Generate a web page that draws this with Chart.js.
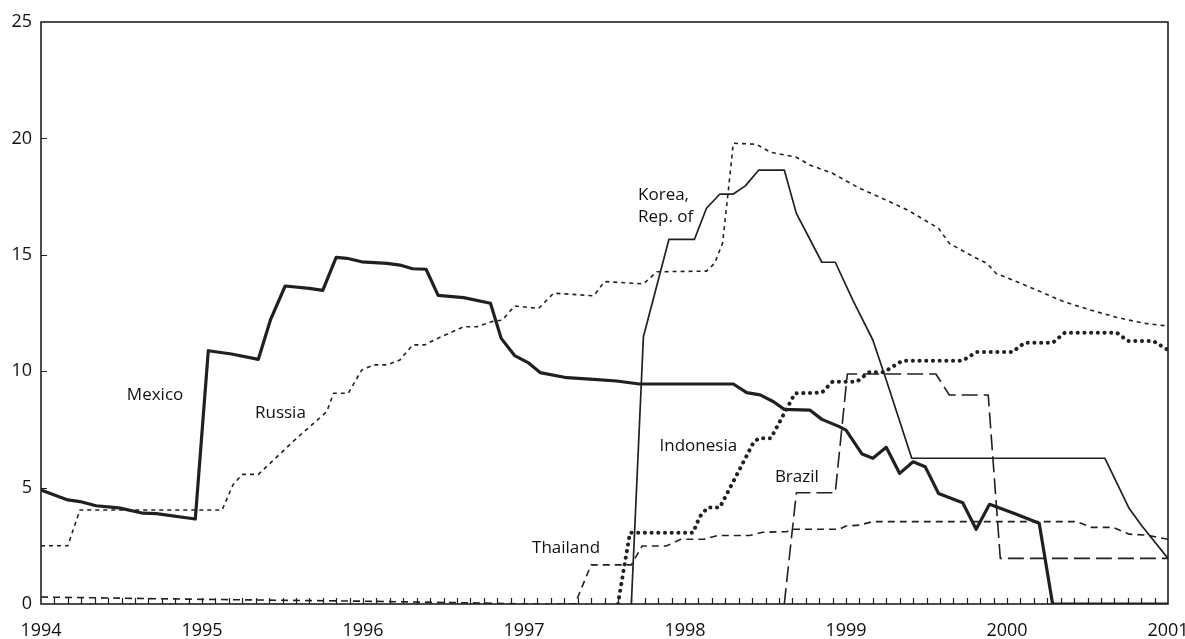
<!DOCTYPE html>
<html>
<head>
<meta charset="utf-8">
<script src="https://cdn.jsdelivr.net/npm/chart.js@4"></script>
<style>
  body { margin: 0; background: #fff; }
  #wrap { width: 1185px; height: 639px; }
</style>
</head>
<body>
<div id="wrap"><canvas id="chart"></canvas></div>
<script>
// x = months since January 1994, y = rate
const years = [1994, 1995, 1996, 1997, 1998, 1999, 2000, 2001];
const yTicks = [0, 5, 10, 15, 20, 25];

const mexico = [[0,4.9],[2,4.47],[2.9,4.4],[4.1,4.22],[5.6,4.14],[5.9,4.12],[7.6,3.9],[8.6,3.88],[11.5,3.65],
  [12.47,10.88],[14.2,10.74],[16.2,10.51],[17.1,12.2],[18.2,13.66],[20.0,13.56],[21.0,13.47],[22.0,14.89],
  [22.8,14.85],[23.9,14.7],[25.8,14.63],[26.75,14.56],[27.7,14.4],[28.7,14.38],[29.6,13.26],[31.5,13.16],
  [33.5,12.92],[34.3,11.41],[35.3,10.67],[36.3,10.37],[37.2,9.94],[39.2,9.72],[41.2,9.65],[42.9,9.58],
  [44.6,9.45],[51.6,9.45],[52.6,9.08],[53.6,8.98],[54.6,8.69],[55.4,8.36],[57.3,8.33],[58.2,7.93],
  [59.5,7.62],[60.0,7.47],[61.2,6.44],[62.0,6.26],[63.0,6.73],[64.0,5.61],[65.0,6.11],[65.9,5.9],
  [66.9,4.75],[68.7,4.35],[69.7,3.21],[70.7,4.28],[72.5,3.9],[74.4,3.47],[75.4,0],[84,0]];

const russia = [[0,2.5],[2,2.5],[2.9,4.04],[13.5,4.04],[14.3,5.11],[15,5.57],[16.2,5.57],[18.9,7.04],
  [21.3,8.26],[21.8,9.05],[22.9,9.05],[23.9,10.05],[24.8,10.27],[25.8,10.27],[26.75,10.48],[27.7,11.13],
  [28.6,11.13],[29.4,11.37],[31.5,11.91],[32.5,11.91],[33.6,12.13],[34.4,12.2],[35.3,12.8],[37.1,12.7],
  [38.2,13.35],[41.2,13.24],[42.0,13.85],[44.9,13.75],[45.9,14.27],[49.6,14.3],[50.2,14.63],[50.8,15.5],
  [51.2,17.6],[51.6,19.79],[53.3,19.75],[54.4,19.4],[56.3,19.19],[57.3,18.86],[59.0,18.5],[61.0,17.86],
  [62.8,17.4],[64.6,16.92],[66.9,16.14],[67.7,15.49],[69.5,14.92],[70.5,14.63],[71.2,14.2],[72.7,13.85],
  [74.2,13.49],[76.2,12.99],[78.2,12.63],[80.2,12.31],[82.2,12.06],[84,11.94]];

const korea = [[44,0],[44.9,11.48],[46.8,15.66],[48.7,15.66],[49.6,17.0],[50.6,17.61],[51.6,17.61],
  [52.5,17.96],[53.5,18.64],[55.4,18.64],[56.3,16.78],[58.2,14.68],[59.2,14.68],[60.5,13.06],[62.0,11.34],
  [63.0,9.62],[64.9,6.26],[79.3,6.26],[81.1,4.11],[82.0,3.39],[84,1.96]];

const indonesia = [[43,0],[43.9,3.06],[48.6,3.06],[49.1,3.75],[49.7,4.15],[50.6,4.15],[53.1,6.93],
  [53.5,7.12],[54.4,7.12],[56.2,9.05],[58.2,9.08],[59.0,9.55],[60.8,9.55],[61.7,9.95],[62.8,9.95],
  [64.2,10.45],[68.7,10.45],[69.7,10.82],[72.4,10.82],[73.3,11.22],[75.4,11.22],[76.3,11.65],[80.2,11.65],
  [81.0,11.3],[82.9,11.3],[84,10.91]];

const thailand = [[0,0.3],[12,0.2],[24,0.12],[33,0.04],[36,0],[39.8,0],[41,1.68],[44,1.68],[44.8,2.49],
  [46.6,2.49],[47.7,2.78],[49.4,2.78],[50.4,2.94],[52.8,2.94],[53.8,3.08],[55.6,3.11],[56.1,3.21],
  [59.5,3.21],[60,3.35],[61,3.39],[62,3.54],[77.2,3.54],[78.3,3.29],[79.9,3.29],[81.1,3.0],[82.4,2.96],[84,2.78]];

const brazil = [[55.4,0],[56.3,4.78],[59.2,4.78],[60.1,9.88],[66.7,9.88],[67.7,8.98],[70.6,8.98],
  [71.5,1.96],[84,1.96]];

// country names placed next to their lines (month, rate)
const seriesLabels = [
  { text: 'Mexico', at: [6.4, 8.98] },
  { text: 'Russia', at: [15.95, 8.2] },
  { text: 'Korea,', at: [44.5, 17.57] },
  { text: 'Rep. of', at: [44.5, 16.62] },
  { text: 'Indonesia', at: [46.1, 6.79] },
  { text: 'Brazil', at: [54.7, 5.46] },
  { text: 'Thailand', at: [36.6, 2.4] }
];

const ink = '#231f20';
const toPoints = arr => arr.map(([x, y]) => ({ x, y }));

function series(data, width, dash, cap) {
  return {
    data: toPoints(data),
    showLine: true,
    borderColor: ink,
    borderWidth: width,
    borderDash: dash,
    borderCapStyle: cap || 'butt',
    borderJoinStyle: 'round',
    pointRadius: 0,
    tension: 0
  };
}

// frame, inward ticks and line names
const decorations = {
  id: 'decorations',
  afterDatasetsDraw(chart) {
    const { ctx, chartArea: a, scales: { x, y } } = chart;
    ctx.save();
    ctx.strokeStyle = ink;
    ctx.lineWidth = 1.6;
    ctx.setLineDash([]);
    ctx.strokeRect(a.left, a.top, a.right - a.left, a.bottom - a.top);

    ctx.beginPath();
    for (let m = 1; m < 84; m++) {
      const px = Math.round(x.getPixelForValue(m)) + 0.5;
      ctx.moveTo(px, a.bottom);
      ctx.lineTo(px, a.bottom - 6);
    }
    yTicks.slice(1, -1).forEach(v => {
      const py = Math.round(y.getPixelForValue(v)) + 0.5;
      ctx.moveTo(a.left, py);
      ctx.lineTo(a.left + 6, py);
    });
    ctx.lineWidth = 1.2;
    ctx.stroke();

    ctx.fillStyle = '#111';
    ctx.font = '17px "Open Sans", sans-serif';
    ctx.textBaseline = 'middle';
    ctx.textAlign = 'left';
    seriesLabels.forEach(l => {
      ctx.fillText(l.text, x.getPixelForValue(l.at[0]), y.getPixelForValue(l.at[1]));
    });
    ctx.restore();
  }
};

new Chart(document.getElementById('chart'), {
  type: 'scatter',
  data: {
    datasets: [
      series(russia, 1.6, [4, 4]),
      series(thailand, 1.6, [7, 5]),
      series(brazil, 1.6, [16, 6]),
      series(korea, 1.7, []),
      series(indonesia, 4, [0.1, 6.6], 'round'),
      series(mexico, 3.2, [])
    ]
  },
  options: {
    responsive: true,
    maintainAspectRatio: false,
    animation: false,
    layout: { padding: { top: 22, right: 17, left: 0, bottom: 0 } },
    plugins: { legend: { display: false }, tooltip: { enabled: false } },
    scales: {
      x: {
        type: 'linear',
        min: 0,
        max: 84,
        afterBuildTicks: scale => {
          scale.ticks = years.map((yr, i) => ({ value: i * 12 }));
        },
        ticks: {
          autoSkip: false,
          maxRotation: 0,
          padding: 16,
          color: '#111',
          font: { family: '"Open Sans", sans-serif', size: 18 },
          callback: v => String(years[v / 12])
        },
        grid: { display: false, drawTicks: false },
        border: { display: false },
        afterFit: scale => {
          scale.height = 35;
          scale.paddingLeft = 0;
          scale.paddingRight = 0;
        }
      },
      y: {
        min: 0,
        max: 25,
        afterBuildTicks: scale => {
          scale.ticks = yTicks.map(v => ({ value: v }));
        },
        ticks: {
          padding: 9,
          color: '#111',
          font: { family: '"Open Sans", sans-serif', size: 18 }
        },
        grid: { display: false, drawTicks: false },
        border: { display: false },
        afterFit: scale => {
          scale.width = 41;
          scale.paddingTop = 0;
          scale.paddingBottom = 0;
        }
      }
    }
  },
  plugins: [decorations]
});
</script>
</body>
</html>
